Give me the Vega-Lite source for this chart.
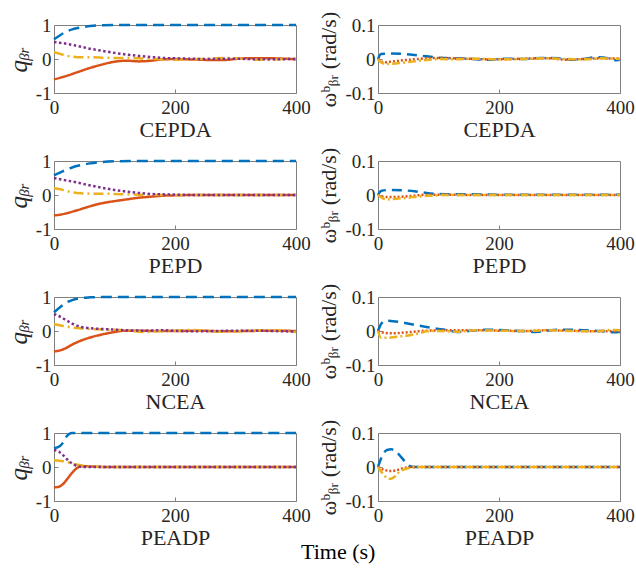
{
"$schema": "https://vega.github.io/schema/vega-lite/v6.json",
"padding": {"left": 5, "top": 10, "right": 13, "bottom": 5},
"background": "white",
"datasets": {
"CEPDA_q": [
{"s":"a","t":0,"v":0.58},{"s":"a","t":10,"v":0.7},{"s":"a","t":20,"v":0.8},{"s":"a","t":30,"v":0.87},{"s":"a","t":45,"v":0.93},{"s":"a","t":60,"v":0.97},{"s":"a","t":80,"v":0.99},{"s":"a","t":100,"v":1},{"s":"a","t":400,"v":1},
{"s":"b","t":0,"v":-0.6},{"s":"b","t":20,"v":-0.5},{"s":"b","t":40,"v":-0.38},{"s":"b","t":60,"v":-0.26},{"s":"b","t":80,"v":-0.16},{"s":"b","t":100,"v":-0.08},{"s":"b","t":120,"v":-0.05},{"s":"b","t":140,"v":-0.07},{"s":"b","t":160,"v":-0.05},{"s":"b","t":180,"v":-0.01},{"s":"b","t":200,"v":0},{"s":"b","t":220,"v":-0.01},{"s":"b","t":240,"v":-0.02},{"s":"b","t":260,"v":-0.03},{"s":"b","t":280,"v":-0.03},{"s":"b","t":300,"v":0},{"s":"b","t":320,"v":0.02},{"s":"b","t":340,"v":0.02},{"s":"b","t":360,"v":0.02},{"s":"b","t":380,"v":0.01},{"s":"b","t":400,"v":-0.01},
{"s":"c","t":0,"v":0.2},{"s":"c","t":10,"v":0.15},{"s":"c","t":20,"v":0.1},{"s":"c","t":30,"v":0.07},{"s":"c","t":45,"v":0.05},{"s":"c","t":60,"v":0.05},{"s":"c","t":80,"v":0.04},{"s":"c","t":100,"v":0.03},{"s":"c","t":120,"v":0.03},{"s":"c","t":140,"v":0.02},{"s":"c","t":160,"v":0.01},{"s":"c","t":180,"v":-0.01},{"s":"c","t":200,"v":-0.02},{"s":"c","t":220,"v":-0.01},{"s":"c","t":240,"v":0},{"s":"c","t":260,"v":0.01},{"s":"c","t":280,"v":0.03},{"s":"c","t":300,"v":0.02},{"s":"c","t":320,"v":0},{"s":"c","t":340,"v":-0.02},{"s":"c","t":360,"v":-0.02},{"s":"c","t":380,"v":0},{"s":"c","t":400,"v":0.01},
{"s":"d","t":0,"v":0.5},{"s":"d","t":20,"v":0.45},{"s":"d","t":40,"v":0.38},{"s":"d","t":60,"v":0.3},{"s":"d","t":80,"v":0.24},{"s":"d","t":100,"v":0.18},{"s":"d","t":120,"v":0.13},{"s":"d","t":140,"v":0.09},{"s":"d","t":160,"v":0.06},{"s":"d","t":180,"v":0.03},{"s":"d","t":200,"v":0.02},{"s":"d","t":220,"v":0.01},{"s":"d","t":260,"v":0},{"s":"d","t":300,"v":0.01},{"s":"d","t":340,"v":-0.01},{"s":"d","t":400,"v":0}
],
"CEPDA_w": [
{"s":"wa","t":0,"v":0},{"s":"wa","t":5,"v":0.015},{"s":"wa","t":20,"v":0.016},{"s":"wa","t":40,"v":0.015},{"s":"wa","t":60,"v":0.012},{"s":"wa","t":80,"v":0.008},{"s":"wa","t":100,"v":0.004},{"s":"wa","t":120,"v":0.002},{"s":"wa","t":150,"v":0.001},{"s":"wa","t":180,"v":-0.002},{"s":"wa","t":210,"v":0.001},{"s":"wa","t":240,"v":0},{"s":"wa","t":270,"v":0.003},{"s":"wa","t":300,"v":0.002},{"s":"wa","t":320,"v":-0.002},{"s":"wa","t":340,"v":0},{"s":"wa","t":360,"v":0.005},{"s":"wa","t":380,"v":0.002},{"s":"wa","t":395,"v":-0.004},{"s":"wa","t":400,"v":-0.002},
{"s":"wb","t":0,"v":0},{"s":"wb","t":10,"v":-0.01},{"s":"wb","t":20,"v":-0.008},{"s":"wb","t":40,"v":-0.004},{"s":"wb","t":60,"v":-0.001},{"s":"wb","t":80,"v":0.002},{"s":"wb","t":100,"v":0.003},{"s":"wb","t":130,"v":0.002},{"s":"wb","t":160,"v":0},{"s":"wb","t":200,"v":-0.001},{"s":"wb","t":240,"v":0.001},{"s":"wb","t":280,"v":0.002},{"s":"wb","t":310,"v":-0.002},{"s":"wb","t":340,"v":0},{"s":"wb","t":370,"v":0.002},{"s":"wb","t":400,"v":0.001},
{"s":"wc","t":0,"v":0},{"s":"wc","t":5,"v":-0.01},{"s":"wc","t":15,"v":-0.015},{"s":"wc","t":25,"v":-0.014},{"s":"wc","t":40,"v":-0.011},{"s":"wc","t":60,"v":-0.007},{"s":"wc","t":80,"v":-0.003},{"s":"wc","t":100,"v":0},{"s":"wc","t":130,"v":-0.001},{"s":"wc","t":160,"v":0.001},{"s":"wc","t":200,"v":-0.001},{"s":"wc","t":240,"v":0},{"s":"wc","t":280,"v":0.002},{"s":"wc","t":310,"v":0},{"s":"wc","t":340,"v":-0.001},{"s":"wc","t":370,"v":0.002},{"s":"wc","t":400,"v":0}
],
"PEPD_q": [
{"s":"a","t":0,"v":0.58},{"s":"a","t":10,"v":0.66},{"s":"a","t":20,"v":0.74},{"s":"a","t":30,"v":0.81},{"s":"a","t":45,"v":0.88},{"s":"a","t":60,"v":0.93},{"s":"a","t":80,"v":0.97},{"s":"a","t":100,"v":0.99},{"s":"a","t":130,"v":1},{"s":"a","t":400,"v":1},
{"s":"b","t":0,"v":-0.6},{"s":"b","t":10,"v":-0.58},{"s":"b","t":20,"v":-0.54},{"s":"b","t":40,"v":-0.44},{"s":"b","t":60,"v":-0.33},{"s":"b","t":80,"v":-0.24},{"s":"b","t":100,"v":-0.18},{"s":"b","t":120,"v":-0.13},{"s":"b","t":140,"v":-0.08},{"s":"b","t":160,"v":-0.05},{"s":"b","t":180,"v":-0.02},{"s":"b","t":200,"v":-0.01},{"s":"b","t":240,"v":0},{"s":"b","t":400,"v":0},
{"s":"c","t":0,"v":0.2},{"s":"c","t":10,"v":0.17},{"s":"c","t":20,"v":0.12},{"s":"c","t":30,"v":0.08},{"s":"c","t":45,"v":0.05},{"s":"c","t":60,"v":0.04},{"s":"c","t":80,"v":0.04},{"s":"c","t":100,"v":0.03},{"s":"c","t":120,"v":0.02},{"s":"c","t":140,"v":0.01},{"s":"c","t":160,"v":0.005},{"s":"c","t":200,"v":0},{"s":"c","t":400,"v":0},
{"s":"d","t":0,"v":0.5},{"s":"d","t":20,"v":0.43},{"s":"d","t":40,"v":0.36},{"s":"d","t":60,"v":0.28},{"s":"d","t":80,"v":0.21},{"s":"d","t":100,"v":0.15},{"s":"d","t":120,"v":0.1},{"s":"d","t":140,"v":0.06},{"s":"d","t":160,"v":0.03},{"s":"d","t":180,"v":0.02},{"s":"d","t":200,"v":0.01},{"s":"d","t":240,"v":0},{"s":"d","t":400,"v":0}
],
"PEPD_w": [
{"s":"wa","t":0,"v":0},{"s":"wa","t":5,"v":0.012},{"s":"wa","t":20,"v":0.015},{"s":"wa","t":40,"v":0.014},{"s":"wa","t":60,"v":0.011},{"s":"wa","t":80,"v":0.006},{"s":"wa","t":100,"v":0.003},{"s":"wa","t":120,"v":0.002},{"s":"wa","t":150,"v":0.002},{"s":"wa","t":200,"v":0.001},{"s":"wa","t":250,"v":0.001},{"s":"wa","t":300,"v":0.001},{"s":"wa","t":350,"v":0.001},{"s":"wa","t":400,"v":0.001},
{"s":"wb","t":0,"v":0},{"s":"wb","t":5,"v":-0.005},{"s":"wb","t":20,"v":-0.006},{"s":"wb","t":40,"v":-0.005},{"s":"wb","t":60,"v":-0.002},{"s":"wb","t":80,"v":0.001},{"s":"wb","t":100,"v":0.001},{"s":"wb","t":150,"v":0},{"s":"wb","t":400,"v":0},
{"s":"wc","t":0,"v":0},{"s":"wc","t":8,"v":-0.01},{"s":"wc","t":15,"v":-0.013},{"s":"wc","t":30,"v":-0.011},{"s":"wc","t":50,"v":-0.008},{"s":"wc","t":70,"v":-0.004},{"s":"wc","t":90,"v":-0.002},{"s":"wc","t":110,"v":0},{"s":"wc","t":400,"v":0}
],
"NCEA_q": [
{"s":"a","t":0,"v":0.55},{"s":"a","t":10,"v":0.7},{"s":"a","t":20,"v":0.83},{"s":"a","t":30,"v":0.91},{"s":"a","t":45,"v":0.97},{"s":"a","t":60,"v":0.99},{"s":"a","t":80,"v":1},{"s":"a","t":400,"v":1},
{"s":"b","t":0,"v":-0.6},{"s":"b","t":10,"v":-0.57},{"s":"b","t":20,"v":-0.5},{"s":"b","t":30,"v":-0.4},{"s":"b","t":45,"v":-0.28},{"s":"b","t":60,"v":-0.19},{"s":"b","t":80,"v":-0.1},{"s":"b","t":100,"v":-0.03},{"s":"b","t":120,"v":0.01},{"s":"b","t":140,"v":0.01},{"s":"b","t":170,"v":0},{"s":"b","t":200,"v":0},{"s":"b","t":240,"v":0.01},{"s":"b","t":280,"v":-0.01},{"s":"b","t":320,"v":0},{"s":"b","t":360,"v":0.01},{"s":"b","t":400,"v":0},
{"s":"c","t":0,"v":0.2},{"s":"c","t":15,"v":0.15},{"s":"c","t":30,"v":0.1},{"s":"c","t":50,"v":0.07},{"s":"c","t":70,"v":0.05},{"s":"c","t":90,"v":0.04},{"s":"c","t":110,"v":0.03},{"s":"c","t":130,"v":0},{"s":"c","t":150,"v":-0.03},{"s":"c","t":170,"v":-0.01},{"s":"c","t":200,"v":0.01},{"s":"c","t":230,"v":0.03},{"s":"c","t":250,"v":0.01},{"s":"c","t":270,"v":-0.02},{"s":"c","t":290,"v":-0.02},{"s":"c","t":320,"v":0.01},{"s":"c","t":350,"v":0.02},{"s":"c","t":370,"v":0.02},{"s":"c","t":400,"v":-0.03},
{"s":"d","t":0,"v":0.5},{"s":"d","t":10,"v":0.42},{"s":"d","t":20,"v":0.32},{"s":"d","t":30,"v":0.22},{"s":"d","t":45,"v":0.12},{"s":"d","t":60,"v":0.08},{"s":"d","t":80,"v":0.06},{"s":"d","t":100,"v":0.04},{"s":"d","t":120,"v":0.02},{"s":"d","t":150,"v":0.01},{"s":"d","t":180,"v":0.02},{"s":"d","t":210,"v":0},{"s":"d","t":240,"v":-0.01},{"s":"d","t":270,"v":0},{"s":"d","t":300,"v":0.01},{"s":"d","t":330,"v":0.01},{"s":"d","t":360,"v":0},{"s":"d","t":400,"v":-0.02}
],
"NCEA_w": [
{"s":"wa","t":0,"v":0},{"s":"wa","t":5,"v":0.02},{"s":"wa","t":12,"v":0.03},{"s":"wa","t":25,"v":0.029},{"s":"wa","t":40,"v":0.025},{"s":"wa","t":60,"v":0.018},{"s":"wa","t":80,"v":0.012},{"s":"wa","t":100,"v":0.006},{"s":"wa","t":120,"v":0.001},{"s":"wa","t":130,"v":-0.003},{"s":"wa","t":150,"v":0},{"s":"wa","t":180,"v":0.004},{"s":"wa","t":210,"v":0.002},{"s":"wa","t":240,"v":0},{"s":"wa","t":260,"v":-0.003},{"s":"wa","t":290,"v":0.003},{"s":"wa","t":310,"v":0.004},{"s":"wa","t":340,"v":0.002},{"s":"wa","t":370,"v":0},{"s":"wa","t":390,"v":-0.004},{"s":"wa","t":400,"v":-0.002},
{"s":"wb","t":0,"v":0},{"s":"wb","t":10,"v":-0.005},{"s":"wb","t":25,"v":-0.007},{"s":"wb","t":40,"v":-0.005},{"s":"wb","t":60,"v":-0.002},{"s":"wb","t":80,"v":0.001},{"s":"wb","t":120,"v":0.002},{"s":"wb","t":160,"v":0.002},{"s":"wb","t":200,"v":0.001},{"s":"wb","t":240,"v":0},{"s":"wb","t":280,"v":0.002},{"s":"wb","t":320,"v":0.001},{"s":"wb","t":360,"v":-0.001},{"s":"wb","t":400,"v":0},
{"s":"wc","t":0,"v":0},{"s":"wc","t":5,"v":-0.02},{"s":"wc","t":15,"v":-0.02},{"s":"wc","t":30,"v":-0.017},{"s":"wc","t":50,"v":-0.013},{"s":"wc","t":70,"v":-0.006},{"s":"wc","t":80,"v":-0.001},{"s":"wc","t":100,"v":0},{"s":"wc","t":130,"v":-0.002},{"s":"wc","t":160,"v":0.002},{"s":"wc","t":200,"v":0.001},{"s":"wc","t":240,"v":0},{"s":"wc","t":280,"v":0.002},{"s":"wc","t":320,"v":0},{"s":"wc","t":360,"v":-0.001},{"s":"wc","t":380,"v":0.003},{"s":"wc","t":400,"v":0.002}
],
"PEADP_q": [
{"s":"a","t":0,"v":0.55},{"s":"a","t":10,"v":0.62},{"s":"a","t":15,"v":0.72},{"s":"a","t":20,"v":0.88},{"s":"a","t":25,"v":0.97},{"s":"a","t":30,"v":1},{"s":"a","t":400,"v":1},
{"s":"b","t":0,"v":-0.6},{"s":"b","t":8,"v":-0.58},{"s":"b","t":15,"v":-0.5},{"s":"b","t":22,"v":-0.35},{"s":"b","t":30,"v":-0.17},{"s":"b","t":38,"v":-0.03},{"s":"b","t":45,"v":0.02},{"s":"b","t":55,"v":0.02},{"s":"b","t":70,"v":0.01},{"s":"b","t":90,"v":0},{"s":"b","t":400,"v":0},
{"s":"c","t":0,"v":0.2},{"s":"c","t":15,"v":0.17},{"s":"c","t":25,"v":0.13},{"s":"c","t":35,"v":0.08},{"s":"c","t":45,"v":0.05},{"s":"c","t":55,"v":0.03},{"s":"c","t":70,"v":0.01},{"s":"c","t":90,"v":0},{"s":"c","t":400,"v":0},
{"s":"d","t":0,"v":0.5},{"s":"d","t":8,"v":0.45},{"s":"d","t":15,"v":0.35},{"s":"d","t":22,"v":0.22},{"s":"d","t":30,"v":0.1},{"s":"d","t":38,"v":0.03},{"s":"d","t":50,"v":0},{"s":"d","t":400,"v":0}
],
"PEADP_w": [
{"s":"wa","t":0,"v":0},{"s":"wa","t":5,"v":0.025},{"s":"wa","t":10,"v":0.042},{"s":"wa","t":15,"v":0.05},{"s":"wa","t":22,"v":0.052},{"s":"wa","t":30,"v":0.045},{"s":"wa","t":38,"v":0.03},{"s":"wa","t":45,"v":0.015},{"s":"wa","t":52,"v":0.003},{"s":"wa","t":60,"v":0},{"s":"wa","t":400,"v":0},
{"s":"wb","t":0,"v":0},{"s":"wb","t":10,"v":-0.008},{"s":"wb","t":20,"v":-0.012},{"s":"wb","t":30,"v":-0.01},{"s":"wb","t":40,"v":-0.004},{"s":"wb","t":50,"v":-0.001},{"s":"wb","t":60,"v":0},{"s":"wb","t":400,"v":0},
{"s":"wc","t":0,"v":0},{"s":"wc","t":8,"v":-0.02},{"s":"wc","t":15,"v":-0.032},{"s":"wc","t":20,"v":-0.035},{"s":"wc","t":28,"v":-0.028},{"s":"wc","t":35,"v":-0.015},{"s":"wc","t":45,"v":-0.006},{"s":"wc","t":55,"v":-0.002},{"s":"wc","t":70,"v":0},{"s":"wc","t":400,"v":0}
]
},
"title": {"text": "Time (s)", "orient": "bottom", "anchor": "middle", "fontSize": 22, "font": "Liberation Serif", "fontWeight": "normal", "color": "#000000", "offset": -7, "dx": 18},
"columns": 2,
"spacing": {"row": 68, "column": 82},
"bounds": "flush",
"resolve": {"scale": {"x": "independent", "y": "independent"}, "axis": {"x": "independent", "y": "independent"}},
"concat": [
{"data": {"name": "CEPDA_q"}, "width": 242, "height": 68, "mark": {"type": "line", "interpolate": "monotone"},
 "encoding": {"x": {"field": "t", "type": "quantitative", "scale": {"domain": [0, 400], "nice": false}, "axis": {"values": [0, 200, 400], "title": "CEPDA"}},
  "y": {"field": "v", "type": "quantitative", "scale": {"domain": [-1, 1], "nice": false}, "axis": {"values": [-1, 0, 1], "title": "qᵦᵣ", "titleFontStyle": "italic", "titleFontSize": 25}},
  "color": {"field": "s", "type": "nominal", "legend": null, "scale": {"domain": ["a","b","c","d","wa","wb","wc"], "range": ["#0072BD","#D95319","#EDB120","#7E2F8E","#0072BD","#D95319","#EDB120"]}},
  "strokeDash": {"field": "s", "type": "nominal", "legend": null, "scale": {"domain": ["a","b","c","d","wa","wb","wc"], "range": [[11,6],[1,0],[10,4,2,4],[2.5,2.5],[10,6],[2,2],[8,3,2,3]]}},
  "strokeWidth": {"value": 2.5}}},
{"data": {"name": "CEPDA_w"}, "width": 242, "height": 68, "mark": {"type": "line", "interpolate": "monotone"},
 "encoding": {"x": {"field": "t", "type": "quantitative", "scale": {"domain": [0, 400], "nice": false}, "axis": {"values": [0, 200, 400], "title": "CEPDA"}},
  "y": {"field": "v", "type": "quantitative", "scale": {"domain": [-0.1, 0.1], "nice": false}, "axis": {"values": [-0.1, 0, 0.1], "title": "ωᵇᵦᵣ (rad/s)"}},
  "color": {"field": "s", "type": "nominal", "legend": null, "scale": {"domain": ["a","b","c","d","wa","wb","wc"], "range": ["#0072BD","#D95319","#EDB120","#7E2F8E","#0072BD","#D95319","#EDB120"]}},
  "strokeDash": {"field": "s", "type": "nominal", "legend": null, "scale": {"domain": ["a","b","c","d","wa","wb","wc"], "range": [[11,6],[1,0],[10,4,2,4],[2.5,2.5],[10,6],[2,2],[8,3,2,3]]}},
  "strokeWidth": {"value": 2.5}}},
{"data": {"name": "PEPD_q"}, "width": 242, "height": 68, "mark": {"type": "line", "interpolate": "monotone"},
 "encoding": {"x": {"field": "t", "type": "quantitative", "scale": {"domain": [0, 400], "nice": false}, "axis": {"values": [0, 200, 400], "title": "PEPD"}},
  "y": {"field": "v", "type": "quantitative", "scale": {"domain": [-1, 1], "nice": false}, "axis": {"values": [-1, 0, 1], "title": "qᵦᵣ", "titleFontStyle": "italic", "titleFontSize": 25}},
  "color": {"field": "s", "type": "nominal", "legend": null, "scale": {"domain": ["a","b","c","d","wa","wb","wc"], "range": ["#0072BD","#D95319","#EDB120","#7E2F8E","#0072BD","#D95319","#EDB120"]}},
  "strokeDash": {"field": "s", "type": "nominal", "legend": null, "scale": {"domain": ["a","b","c","d","wa","wb","wc"], "range": [[11,6],[1,0],[10,4,2,4],[2.5,2.5],[10,6],[2,2],[8,3,2,3]]}},
  "strokeWidth": {"value": 2.5}}},
{"data": {"name": "PEPD_w"}, "width": 242, "height": 68, "mark": {"type": "line", "interpolate": "monotone"},
 "encoding": {"x": {"field": "t", "type": "quantitative", "scale": {"domain": [0, 400], "nice": false}, "axis": {"values": [0, 200, 400], "title": "PEPD"}},
  "y": {"field": "v", "type": "quantitative", "scale": {"domain": [-0.1, 0.1], "nice": false}, "axis": {"values": [-0.1, 0, 0.1], "title": "ωᵇᵦᵣ (rad/s)"}},
  "color": {"field": "s", "type": "nominal", "legend": null, "scale": {"domain": ["a","b","c","d","wa","wb","wc"], "range": ["#0072BD","#D95319","#EDB120","#7E2F8E","#0072BD","#D95319","#EDB120"]}},
  "strokeDash": {"field": "s", "type": "nominal", "legend": null, "scale": {"domain": ["a","b","c","d","wa","wb","wc"], "range": [[11,6],[1,0],[10,4,2,4],[2.5,2.5],[10,6],[2,2],[8,3,2,3]]}},
  "strokeWidth": {"value": 2.5}}},
{"data": {"name": "NCEA_q"}, "width": 242, "height": 68, "mark": {"type": "line", "interpolate": "monotone"},
 "encoding": {"x": {"field": "t", "type": "quantitative", "scale": {"domain": [0, 400], "nice": false}, "axis": {"values": [0, 200, 400], "title": "NCEA"}},
  "y": {"field": "v", "type": "quantitative", "scale": {"domain": [-1, 1], "nice": false}, "axis": {"values": [-1, 0, 1], "title": "qᵦᵣ", "titleFontStyle": "italic", "titleFontSize": 25}},
  "color": {"field": "s", "type": "nominal", "legend": null, "scale": {"domain": ["a","b","c","d","wa","wb","wc"], "range": ["#0072BD","#D95319","#EDB120","#7E2F8E","#0072BD","#D95319","#EDB120"]}},
  "strokeDash": {"field": "s", "type": "nominal", "legend": null, "scale": {"domain": ["a","b","c","d","wa","wb","wc"], "range": [[11,6],[1,0],[10,4,2,4],[2.5,2.5],[10,6],[2,2],[8,3,2,3]]}},
  "strokeWidth": {"value": 2.5}}},
{"data": {"name": "NCEA_w"}, "width": 242, "height": 68, "mark": {"type": "line", "interpolate": "monotone"},
 "encoding": {"x": {"field": "t", "type": "quantitative", "scale": {"domain": [0, 400], "nice": false}, "axis": {"values": [0, 200, 400], "title": "NCEA"}},
  "y": {"field": "v", "type": "quantitative", "scale": {"domain": [-0.1, 0.1], "nice": false}, "axis": {"values": [-0.1, 0, 0.1], "title": "ωᵇᵦᵣ (rad/s)"}},
  "color": {"field": "s", "type": "nominal", "legend": null, "scale": {"domain": ["a","b","c","d","wa","wb","wc"], "range": ["#0072BD","#D95319","#EDB120","#7E2F8E","#0072BD","#D95319","#EDB120"]}},
  "strokeDash": {"field": "s", "type": "nominal", "legend": null, "scale": {"domain": ["a","b","c","d","wa","wb","wc"], "range": [[11,6],[1,0],[10,4,2,4],[2.5,2.5],[10,6],[2,2],[8,3,2,3]]}},
  "strokeWidth": {"value": 2.5}}},
{"data": {"name": "PEADP_q"}, "width": 242, "height": 68, "mark": {"type": "line", "interpolate": "monotone"},
 "encoding": {"x": {"field": "t", "type": "quantitative", "scale": {"domain": [0, 400], "nice": false}, "axis": {"values": [0, 200, 400], "title": "PEADP"}},
  "y": {"field": "v", "type": "quantitative", "scale": {"domain": [-1, 1], "nice": false}, "axis": {"values": [-1, 0, 1], "title": "qᵦᵣ", "titleFontStyle": "italic", "titleFontSize": 25}},
  "color": {"field": "s", "type": "nominal", "legend": null, "scale": {"domain": ["a","b","c","d","wa","wb","wc"], "range": ["#0072BD","#D95319","#EDB120","#7E2F8E","#0072BD","#D95319","#EDB120"]}},
  "strokeDash": {"field": "s", "type": "nominal", "legend": null, "scale": {"domain": ["a","b","c","d","wa","wb","wc"], "range": [[11,6],[1,0],[10,4,2,4],[2.5,2.5],[10,6],[2,2],[8,3,2,3]]}},
  "strokeWidth": {"value": 2.5}}},
{"data": {"name": "PEADP_w"}, "width": 242, "height": 68, "mark": {"type": "line", "interpolate": "monotone"},
 "encoding": {"x": {"field": "t", "type": "quantitative", "scale": {"domain": [0, 400], "nice": false}, "axis": {"values": [0, 200, 400], "title": "PEADP"}},
  "y": {"field": "v", "type": "quantitative", "scale": {"domain": [-0.1, 0.1], "nice": false}, "axis": {"values": [-0.1, 0, 0.1], "title": "ωᵇᵦᵣ (rad/s)"}},
  "color": {"field": "s", "type": "nominal", "legend": null, "scale": {"domain": ["a","b","c","d","wa","wb","wc"], "range": ["#0072BD","#D95319","#EDB120","#7E2F8E","#0072BD","#D95319","#EDB120"]}},
  "strokeDash": {"field": "s", "type": "nominal", "legend": null, "scale": {"domain": ["a","b","c","d","wa","wb","wc"], "range": [[11,6],[1,0],[10,4,2,4],[2.5,2.5],[10,6],[2,2],[8,3,2,3]]}},
  "strokeWidth": {"value": 2.5}}}
],
"config": {
 "font": "Liberation Serif",
 "view": {"stroke": "#808080", "strokeWidth": 1},
 "axis": {"labelFont": "Liberation Serif", "titleFont": "Liberation Serif", "labelFontSize": 19, "titleFontSize": 22, "titleFontWeight": "normal", "labelColor": "#262626", "titleColor": "#262626", "domain": false, "grid": false, "ticks": true, "tickColor": "#808080", "tickSize": -4, "labelPadding": 7, "labelFlush": false, "labelOverlap": false, "labelExpr": "toString(datum.value)"},
 "axisX": {"titlePadding": 2, "labelPadding": 9},
 "axisY": {"titlePadding": 4}
}
}
